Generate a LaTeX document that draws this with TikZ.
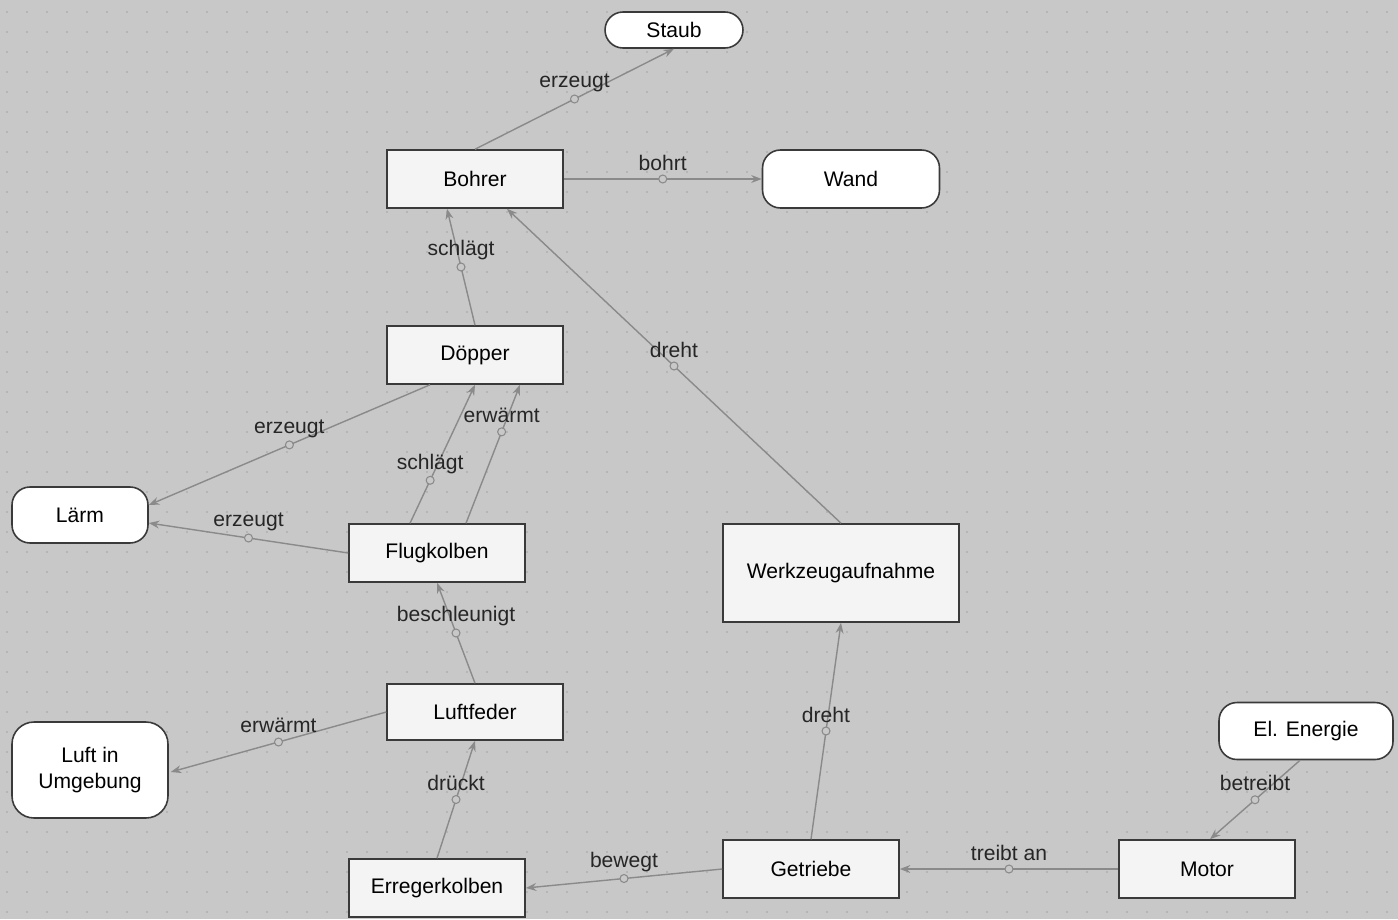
\documentclass[tikz,border=0pt]{standalone}
\usepackage{fontspec}
\setmainfont{Liberation Sans}
\usetikzlibrary{arrows.meta, calc}
\definecolor{mBack}{HTML}{C8C8C8}
\definecolor{mDot}{HTML}{A2A2A2}
\definecolor{mEdge}{HTML}{8A8A8A}
\definecolor{mBox}{HTML}{F4F4F4}
\definecolor{mLine}{HTML}{3A3A3A}

\begin{document}
\begin{tikzpicture}[x=0.02cm, y=-0.02cm,
      box/.style={draw=mLine, line width=0.9pt, fill=mBox, minimum width=3.52cm,
        minimum height=1.16cm, inner sep=0pt, font=\fontsize{12}{14}\selectfont},
      term/.style={draw=mLine, line width=0.9pt, fill=white, rounded corners=0.36cm,
        inner sep=0pt, align=center, font=\fontsize{12}{15}\selectfont},
      rel/.style={draw=mEdge, line width=0.8pt, -{Stealth[length=6pt, width=4.5pt]}},
      knot/.style={pos=0.5, circle, draw=mEdge, fill=mBack, line width=0.6pt,
        minimum size=0.16cm, inner sep=0pt},
      lbl/.style={pos=0.5, yshift=0.33cm, inner sep=0pt, text=black!85,
        font=\fontsize{12}{14}\selectfont}]
    % background with dot grid
    \fill[mBack] (0,0) rectangle (1398,919);
    \useasboundingbox (0,0) rectangle (1398,919);
    \foreach \x in {7,27,...,1397}
      \foreach \y in {12,32,...,912}
        \fill[mDot] (\x,\y) circle (0.016cm);

    % nodes
    \node[term, minimum width=2.76cm, minimum height=0.72cm] (staub) at (674,30) {Staub};
    \node[box] (bohrer) at (475,179) {Bohrer};
    \node[term, minimum width=3.54cm, minimum height=1.16cm] (wand) at (851,179) {Wand};
    \node[box] (doepper) at (475,355) {Döpper};
    \node[term, minimum width=2.72cm, minimum height=1.12cm] (laerm) at (80,515) {Lärm};
    \node[box] (flug) at (437,553) {Flugkolben};
    \node[box, minimum width=4.72cm, minimum height=1.96cm] (werkzeug) at (841,573) {Werkzeugaufnahme};
    \node[box, minimum height=1.12cm] (luftfeder) at (475,712) {Luftfeder};
    \node[term, minimum width=3.12cm, minimum height=1.92cm, rounded corners=0.44cm] (luft) at (90,770) {Luft in\\Umgebung};
    \node[box] (erreger) at (437,888) {Erregerkolben};
    \node[box] (getriebe) at (811,869) {Getriebe};
    \node[box] (motor) at (1207,869) {Motor};
    \node[term, minimum width=3.48cm, minimum height=1.14cm] (energie) at (1306,731) {El. Energie};

    % relations
    \draw[rel] (bohrer.north) -- (staub.south)
      node[knot] (k1) {} node[lbl] (t1) {erzeugt};
    \draw[rel] (bohrer.east) -- (wand.west)
      node[knot] (k2) {} node[lbl] (t2) {bohrt};
    \draw[rel] (doepper.north) -- ($(bohrer.south)+(-28,0)$)
      node[knot] (k3) {} node[lbl] (t3) {schlägt};
    \draw[rel] (werkzeug.north) -- ($(bohrer.south)+(32,0)$)
      node[knot] (k4) {} node[lbl] (t4) {dreht};
    \draw[rel] ($(doepper.south)+(-45,0)$) -- ($(laerm.east)+(0,-10)$)
      node[knot] (k5) {} node[lbl] (t5) {erzeugt};
    \draw[rel] (flug.west) -- ($(laerm.east)+(0,8)$)
      node[knot] (k6) {} node[lbl] (t6) {erzeugt};
    \draw[rel] ($(flug.north)+(-27,0)$) -- (doepper.south)
      node[knot, pos=0.31] (k7) {} node[lbl, pos=0.31] (t7) {schlägt};
    \draw[rel] ($(flug.north)+(29,0)$) -- ($(doepper.south)+(45,0)$)
      node[knot, pos=0.66] (k8) {} node[lbl, pos=0.66] (t8) {erwärmt};
    \draw[rel] (luftfeder.north) -- (flug.south)
      node[knot] (k9) {} node[lbl] (t9) {beschleunigt};
    \draw[rel] (luftfeder.west) -- ($(luft.east)+(2,2)$)
      node[knot] (k10) {} node[lbl] (t10) {erwärmt};
    \draw[rel] (erreger.north) -- (luftfeder.south)
      node[knot] (k11) {} node[lbl] (t11) {drückt};
    \draw[rel] (getriebe.west) -- (erreger.east)
      node[knot] (k12) {} node[lbl] (t12) {bewegt};
    \draw[rel] (getriebe.north) -- (werkzeug.south)
      node[knot] (k13) {} node[lbl] (t13) {dreht};
    \draw[rel] (motor.west) -- (getriebe.east)
      node[knot] (k14) {} node[lbl] (t14) {treibt an};
    \draw[rel] ($(energie.south)+(-6,0)$) -- ($(motor.north)+(3,0)$)
      node[knot] (k15) {} node[lbl] (t15) {betreibt};
  \end{tikzpicture}
\end{document}
